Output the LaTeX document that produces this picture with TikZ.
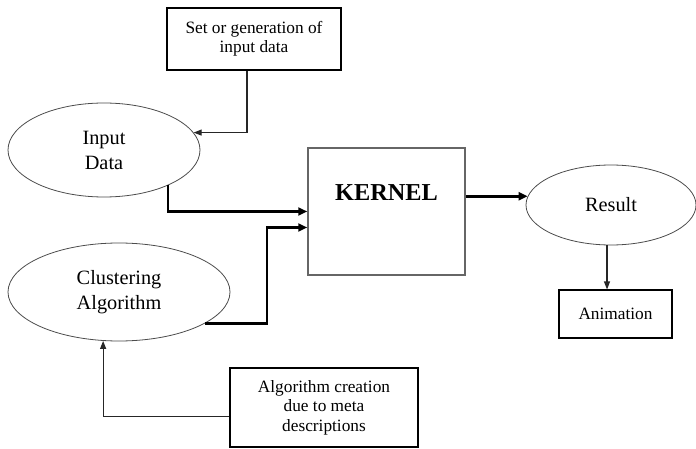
\documentclass[tikz,border=0pt]{standalone}
\usepackage{fontspec}
\setmainfont{Liberation Serif}
\usetikzlibrary{arrows.meta,shapes.geometric}
\begin{document}
\begin{tikzpicture}[x=1pt,y=-1pt,
  boxtxt/.style={font=\fontsize{17.3}{19.5}\selectfont},
  elltxt/.style={font=\fontsize{20.3}{25}\selectfont},
  plainbox/.style={draw=black,line width=1.1pt,rectangle,inner sep=0pt,align=center,boxtxt},
  ell/.style={draw=black!70,line width=0.8pt,ellipse,inner sep=0pt,align=center,elltxt},
  thinarrow/.style={draw=black!85,line width=1.1pt,-{Triangle[length=8pt,width=6pt]}},
  thickarrow/.style={draw=black,line width=2.6pt,-{Triangle[length=9pt,width=8pt]}}
]
\useasboundingbox (0,0) rectangle (696,449);
\fill[white] (0,0) rectangle (696,449);

\node[plainbox,minimum width=174pt,minimum height=62pt] (setbox) at (254,39) {Set or generation of\\input data};
\node[ell,minimum width=192pt,minimum height=94pt] (input) at (104,150) {Input\\Data};
\node[ell,minimum width=222pt,minimum height=98pt] (cluster) at (119,292) {Clustering\\Algorithm};
\node[draw=black!60,line width=1.5pt,rectangle,minimum width=157pt,minimum height=127pt] (kernel) at (386.5,211.5) {};
\node[font=\fontsize{24.3}{26}\selectfont\bfseries] (kerneltext) at (386.5,193) {KERNEL};
\node[ell,minimum width=170pt,minimum height=80pt] (result) at (611,205) {Result};
\node[plainbox,minimum width=113pt,minimum height=48pt] (anim) at (615.5,314) {Animation};
\node[plainbox,minimum width=188pt,minimum height=79pt] (algbox) at (324,407.5) {Algorithm creation\\due to meta\\descriptions};

\coordinate (c1) at (247,133);
\coordinate (cx) at (267,0);
\coordinate (ax) at (607,0);

\draw[thinarrow] (setbox.south -| c1) |- (input.11);
\draw[thickarrow] (input.-29) |- (kernel.west);
\draw[thickarrow] (cluster.-20) -- (cluster.-20 -| cx) |- ([yshift=-16pt]kernel.west);
\draw[thinarrow] ([yshift=-9pt]algbox.west) -| (cluster.-108);
\draw[thickarrow] (result.174.5 -| kernel.east) -- (result.174.5);
\draw[thinarrow] (result.south -| ax) -- (anim.north -| ax);
\end{tikzpicture}
\end{document}
